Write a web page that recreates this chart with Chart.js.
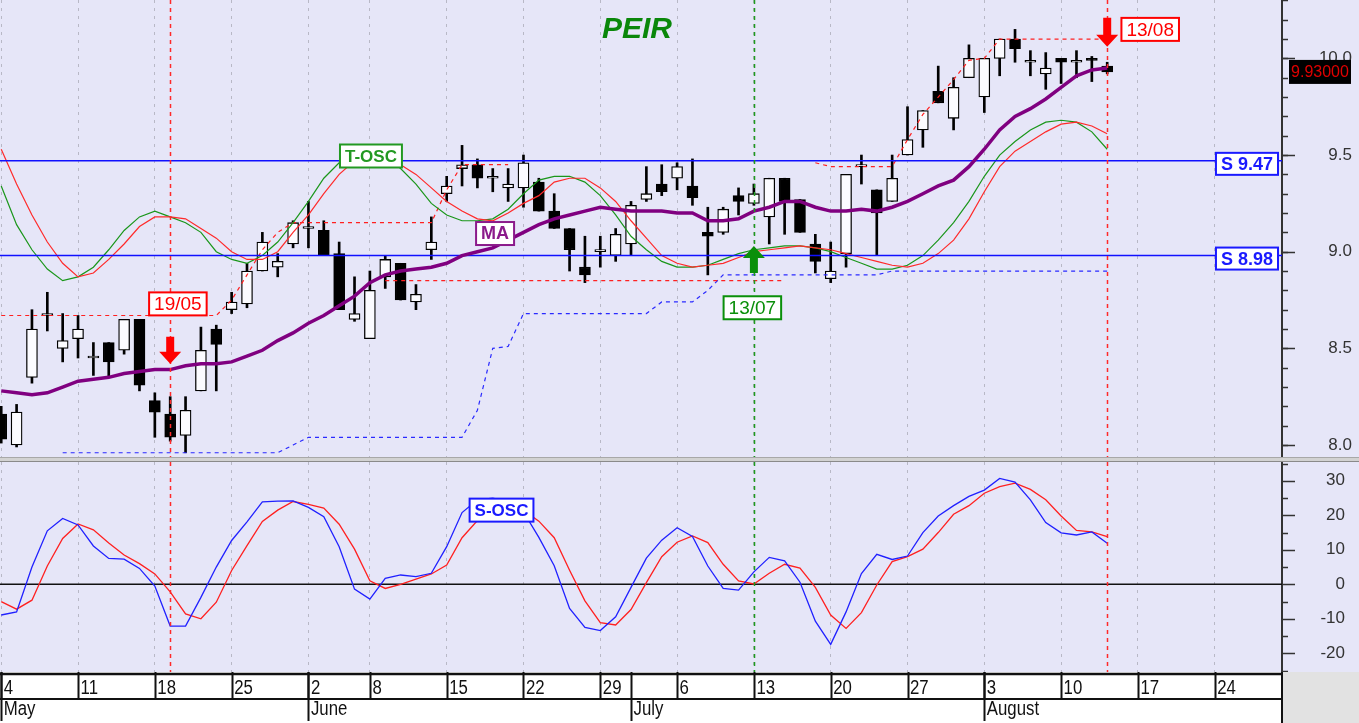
<!DOCTYPE html>
<html>
<head>
<meta charset="utf-8">
<script src="https://cdn.jsdelivr.net/npm/chart.js@4.4.1/dist/chart.umd.min.js"></script>
<style>
  html, body { margin: 0; padding: 0; background: #fff; }
  #wrap { position: relative; width: 1359px; height: 723px; overflow: hidden; background: #e6e6f8; }
  #top { position: absolute; left: 0; top: 0; width: 1359px; height: 457px; }
  #sep { position: absolute; left: 0; top: 457px; width: 1359px; height: 5px; background: #d2d2d2;
         border-top: 1px solid #a8a8a8; border-bottom: 1px solid #8a8a8a; box-sizing: border-box; }
  #bot { position: absolute; left: 0; top: 462px; width: 1359px; height: 261px; }
</style>
</head>
<body>
<div id="wrap">
  <div id="top"><canvas id="priceChart"></canvas></div>
  <div id="sep"></div>
  <div id="bot"><canvas id="oscChart"></canvas></div>
</div>
<script>
// trading-day index axis (0 = 4 May)
var xMin = -0.08, xMax = 83.38;
var weekTickIdx = [0, 5, 10, 15, 20, 24, 29, 34, 39, 44, 49, 54, 59, 64, 69, 74, 79];
var weekTickLabels = ['4', '11', '18', '25', '2', '8', '15', '22', '29', '6', '13', '20', '27', '3', '10', '17', '24'];
var monthIdx = [0, 20, 41, 64];
var monthNames = ['May', 'June', 'July', 'August'];

var priceTicks = [8.0, 8.5, 9.0, 9.5, 10.0];
var oscTicks = [-20, -10, 0, 10, 20, 30];

var openP = [8.16, 8.00, 8.35, 8.67, 8.50, 8.55, 8.45, 8.53, 8.49, 8.65,
             8.23, 8.16, 8.05, 8.28, 8.60, 8.70, 8.73, 8.90, 8.92, 9.04,
             9.12, 9.11, 8.99, 8.65, 8.55, 8.87, 8.94, 8.74, 9.01, 9.30,
             9.43, 9.45, 9.38, 9.33, 9.33, 9.36, 9.21, 9.12, 8.92, 9.00,
             8.98, 9.04, 9.27, 9.35, 9.38, 9.34, 9.10, 9.10, 9.29, 9.25,
             9.18, 9.38, 9.27, 9.04, 8.86, 8.99, 9.44, 9.32, 9.26, 9.50,
             9.63, 9.83, 9.69, 9.90, 9.80, 10.00, 10.10, 9.98, 9.92, 10.00,
             9.98, 10.00, 9.96];
var highP = [8.20, 8.21, 8.70, 8.79, 8.68, 8.67, 8.53, 8.53, 8.65, 8.65,
             8.27, 8.25, 8.25, 8.61, 8.62, 8.79, 8.94, 9.10, 8.99, 9.16,
             9.26, 9.16, 9.05, 8.87, 8.90, 8.98, 8.94, 8.83, 9.18, 9.39,
             9.55, 9.48, 9.43, 9.43, 9.50, 9.38, 9.30, 9.12, 9.08, 9.08,
             9.12, 9.26, 9.44, 9.45, 9.46, 9.48, 9.23, 9.23, 9.33, 9.35,
             9.38, 9.38, 9.27, 9.09, 9.05, 9.40, 9.50, 9.32, 9.50, 9.75,
             9.73, 9.96, 9.90, 10.07, 10.00, 10.10, 10.15, 10.04, 10.03, 10.00,
             10.04, 10.01, 9.98];
var lowP = [8.01, 7.99, 8.32, 8.59, 8.43, 8.45, 8.36, 8.35, 8.47, 8.28,
            8.04, 8.02, 7.96, 8.28, 8.28, 8.68, 8.71, 8.90, 8.87, 9.02,
            9.02, 8.98, 8.70, 8.64, 8.55, 8.81, 8.75, 8.70, 8.96, 9.26,
            9.34, 9.33, 9.31, 9.26, 9.23, 9.21, 9.12, 8.90, 8.84, 8.92,
            8.95, 8.98, 9.26, 9.29, 9.32, 9.24, 8.88, 9.09, 9.19, 9.24,
            9.04, 9.09, 9.10, 8.89, 8.84, 8.92, 9.35, 8.98, 9.26, 9.50,
            9.54, 9.77, 9.63, 9.90, 9.72, 9.91, 9.98, 9.91, 9.84, 9.87,
            9.90, 9.88, 9.92];
var closeP = [8.03, 8.17, 8.60, 8.68, 8.54, 8.60, 8.45, 8.43, 8.65, 8.31,
              8.17, 8.04, 8.18, 8.49, 8.52, 8.74, 8.90, 9.05, 8.95, 9.15,
              9.13, 8.98, 8.70, 8.68, 8.80, 8.96, 8.75, 8.78, 9.05, 9.34,
              9.45, 9.38, 9.38, 9.35, 9.46, 9.21, 9.12, 9.01, 8.88, 9.00,
              9.09, 9.24, 9.30, 9.31, 9.44, 9.28, 9.08, 9.22, 9.26, 9.30,
              9.38, 9.26, 9.10, 8.95, 8.90, 9.40, 9.44, 9.20, 9.38, 9.58,
              9.73, 9.77, 9.85, 10.00, 10.00, 10.10, 10.05, 9.98, 9.95, 9.98,
              9.98, 9.99, 9.93];

var maLine = [8.28, 8.27, 8.26, 8.27, 8.30, 8.33, 8.34, 8.35, 8.37, 8.38,
              8.39, 8.39, 8.41, 8.42, 8.42, 8.43, 8.46, 8.49, 8.54, 8.58,
              8.63, 8.67, 8.72, 8.77, 8.84, 8.88, 8.90, 8.91, 8.92, 8.94,
              8.98, 9.00, 9.02, 9.06, 9.10, 9.14, 9.17, 9.19, 9.21, 9.23,
              9.22, 9.21, 9.21, 9.21, 9.20, 9.20, 9.16, 9.16, 9.17, 9.21,
              9.23, 9.26, 9.26, 9.23, 9.21, 9.21, 9.22, 9.21, 9.23, 9.26,
              9.30, 9.34, 9.37, 9.44, 9.53, 9.63, 9.70, 9.74, 9.79, 9.85,
              9.91, 9.94, 9.95];

// T-OSC (green fast, red slow) plotted on the price scale
var toscFast = [9.34, 9.14, 9.01, 8.91, 8.85, 8.87, 8.92, 9.01, 9.11, 9.18,
                9.21, 9.18, 9.15, 9.10, 9.00, 8.96, 8.94, 8.98, 9.05, 9.15,
                9.26, 9.38, 9.46, 9.52, 9.52, 9.49, 9.43, 9.35, 9.25, 9.19,
                9.16, 9.16, 9.17, 9.22, 9.30, 9.37, 9.39, 9.39, 9.36, 9.29,
                9.19, 9.08, 9.01, 8.95, 8.92, 8.92, 8.93, 8.96, 8.99, 9.01,
                9.02, 9.03, 9.03, 9.02, 9.00, 8.97, 8.94, 8.91, 8.91, 8.93,
                8.98, 9.06, 9.15, 9.26, 9.39, 9.50, 9.57, 9.63, 9.67, 9.68,
                9.67, 9.62, 9.53];
var toscSlow = [9.53, 9.35, 9.19, 9.05, 8.94, 8.87, 8.89, 8.96, 9.04, 9.13,
                9.18, 9.18, 9.17, 9.12, 9.07, 9.00, 8.96, 8.96, 9.00, 9.10,
                9.19, 9.30, 9.40, 9.47, 9.51, 9.50, 9.45, 9.40, 9.33, 9.26,
                9.21, 9.17, 9.16, 9.20, 9.25, 9.29, 9.36, 9.38, 9.38, 9.33,
                9.26, 9.16, 9.07, 8.98, 8.94, 8.92, 8.93, 8.94, 8.97, 9.00,
                9.01, 9.02, 9.03, 9.02, 9.01, 8.99, 8.97, 8.95, 8.93, 8.92,
                8.94, 8.99, 9.06, 9.17, 9.31, 9.44, 9.52, 9.57, 9.62, 9.66,
                9.67, 9.65, 9.61];

var N = null;
var resistA = [8.67, 8.67, 8.67, 8.67, 8.67, 8.67, 8.67, 8.67, 8.67, 8.67,
               8.67, 8.67, 8.67, 8.67, 8.67, 8.75, 8.88, 9.01, 9.10, 9.15,
               9.15, 9.15, 9.15, 9.15, 9.15, 9.15, 9.15, 9.15, 9.15, 9.32,
               9.45, 9.45, 9.45, 9.45, N, N, N, N, N, N,
               N, N, N, N, N, N, N, N, N, N,
               N, N, N, N, N, N, N, N, N, N,
               N, N, N, N, N, N, N, N, N, N,
               N, N, N];
var resistB = [N, N, N, N, N, N, N, N, N, N,
               N, N, N, N, N, N, N, N, N, N,
               N, N, N, N, N, 8.85, 8.85, 8.85, 8.85, 8.85,
               8.85, 8.85, 8.85, 8.85, 8.85, 8.85, 8.85, 8.85, 8.85, 8.85,
               8.85, 8.85, 8.85, 8.85, 8.85, 8.85, 8.85, 8.85, 8.85, 8.85,
               8.85, 8.85, N, N, N, N, N, N, N, N,
               N, N, N, N, N, N, N, N, N, N,
               N, N, N];
var resistC = [N, N, N, N, N, N, N, N, N, N,
               N, N, N, N, N, N, N, N, N, N,
               N, N, N, N, N, N, N, N, N, N,
               N, N, N, N, N, N, N, N, N, N,
               N, N, N, N, N, N, N, N, N, N,
               N, N, N, 9.46, 9.44, 9.44, 9.44, 9.44, 9.44, 9.58,
               9.71, 9.80, 9.89, 9.99, 10.00, 10.10, 10.10, 10.10, 10.10, 10.10,
               10.10, 10.10, 10.10];
var supportStep = [N, N, N, N, 7.96, 7.96, 7.96, 7.96, 7.96, 7.96,
                   7.96, 7.96, 7.96, 7.96, 7.96, 7.96, 7.96, 7.96, 7.96, 8.00,
                   8.04, 8.04, 8.04, 8.04, 8.04, 8.04, 8.04, 8.04, 8.04, 8.04,
                   8.04, 8.18, 8.50, 8.51, 8.68, 8.68, 8.68, 8.68, 8.68, 8.68,
                   8.68, 8.68, 8.68, 8.74, 8.74, 8.74, 8.80, 8.88, 8.88, 8.88,
                   8.88, 8.88, 8.88, 8.88, 8.88, 8.88, 8.88, 8.88, 8.90, 8.90,
                   8.90, 8.90, 8.90, 8.90, 8.90, 8.90, 8.90, 8.90, 8.90, 8.90,
                   8.90, 8.90, 8.90];
var supportLevels = [9.47, 8.98];

// S-OSC lower panel
var soscFast = [-8.9, -8.0, 5.0, 15.5, 19.1, 17.2, 11.1, 7.5, 7.3, 4.6,
                -0.5, -12.1, -12.1, -3.8, 5.0, 12.7, 18.1, 23.9, 24.1, 24.2,
                22.3, 19.6, 10.9, -1.4, -4.3, 1.7, 2.7, 2.2, 3.2, 10.9,
                20.8, 24.5, 25.0, 24.0, 21.0, 13.6, 5.4, -7.0, -12.5, -13.4,
                -9.4, -0.9, 7.6, 12.8, 16.4, 13.9, 5.3, -1.2, -1.7, 3.6,
                7.8, 6.8, 0.6, -10.7, -17.4, -8.0, 3.1, 8.7, 7.2, 8.2,
                15.0, 19.8, 22.8, 25.5, 27.3, 30.7, 29.6, 24.5, 17.9, 14.9,
                14.3, 15.2, 11.9];
var soscSlow = [-5.0, -7.2, -4.6, 5.3, 13.3, 17.5, 15.8, 12.0, 8.5, 6.0,
                3.0, -2.2, -8.6, -10.0, -5.2, 4.0, 11.2, 18.2, 21.5, 24.0,
                23.2, 22.1, 17.4, 10.2, 1.0, -1.2, 0.0, 1.5, 3.0, 5.6,
                13.5, 18.5, 21.0, 22.0, 21.5, 18.3, 13.5, 4.1, -4.8, -11.1,
                -11.8, -7.3, 0.5, 8.0, 12.2, 14.0, 12.1, 5.8, 1.0, 0.1,
                3.2, 5.8, 4.7, -0.9, -8.9, -12.8, -8.2, -0.2, 6.6, 8.0,
                10.2, 15.0, 20.3, 22.8, 26.4, 28.3, 29.3, 27.5, 24.5, 19.8,
                15.6, 15.2, 13.8];

// signals
var signalIdx = [11, 49, 72];
var signalText = ['19/05', '13/07', '13/08'];
var signalBuy = [false, true, false];
// annotation anchors in value space: arrow [tail, tip], tag [index, price]
var signalArrow = [[8.56, 8.42], [8.89, 9.03], [10.21, 10.06]];
var signalTagAt = [[11.5, 8.73], [48.9, 8.71], [74.8, 10.15]];

var FONT = "'Liberation Sans', Arial, sans-serif";

function pts(arr) {
    return arr.map(function(v, i) { return {x: i, y: v}; });
}

function xScale() {
    return {
        type: 'linear', min: xMin, max: xMax, offset: false,
        afterBuildTicks: function(s) { s.ticks = weekTickIdx.map(function(v) { return {value: v}; }); },
        afterFit: function(s) { s.height = 0; s.paddingLeft = 0; s.paddingRight = 0; },
        ticks: {display: false},
        grid: {color: '#b8b8c6', lineWidth: 1, drawTicks: false, offset: false},
        border: {display: false, dash: [3, 5]}
    };
}

// labels are right-aligned at the far edge of the axis box
function yScale(min, max, tickVals, fmt, boxWidth) {
    return {
        type: 'linear', position: 'right', min: min, max: max,
        afterBuildTicks: function(s) { s.ticks = tickVals.map(function(v) { return {value: v}; }); },
        afterFit: function(s) { s.width = boxWidth; s.paddingTop = 0; s.paddingBottom = 0; },
        grid: {display: false, drawTicks: false},
        border: {display: true, color: '#333', width: 2},
        ticks: {
            crossAlign: 'far', padding: 20, color: '#333',
            font: {family: FONT, size: 17},
            callback: fmt
        }
    };
}

function line(ctx, x1, y1, x2, y2) {
    ctx.beginPath(); ctx.moveTo(x1, y1); ctx.lineTo(x2, y2); ctx.stroke();
}

function drawTag(ctx, text, cx, cy, font, color, h) {
    ctx.save();
    ctx.font = font;
    var bw = ctx.measureText(text).width + 10;
    ctx.fillStyle = '#fff';
    ctx.fillRect(cx - bw / 2, cy - h / 2, bw, h);
    ctx.strokeStyle = color; ctx.lineWidth = 2;
    ctx.strokeRect(cx - bw / 2, cy - h / 2, bw, h);
    ctx.fillStyle = color; ctx.textAlign = 'center'; ctx.textBaseline = 'middle';
    ctx.fillText(text, cx, cy + 1);
    ctx.restore();
}

function drawArrow(ctx, x, yTail, yTip, color) {
    var dir = yTip > yTail ? 1 : -1, headLen = 12, headW = 11, shaftW = 4;
    var yh = yTip - dir * headLen;
    ctx.save();
    ctx.fillStyle = color;
    ctx.beginPath();
    ctx.moveTo(x - shaftW, yTail); ctx.lineTo(x + shaftW, yTail);
    ctx.lineTo(x + shaftW, yh); ctx.lineTo(x + headW, yh);
    ctx.lineTo(x, yTip); ctx.lineTo(x - headW, yh);
    ctx.lineTo(x - shaftW, yh); ctx.closePath(); ctx.fill();
    ctx.restore();
}

function drawAxisTicks(chart, major, minor) {
    var ys = chart.scales.y, ctx = chart.ctx, x0 = ys.left;
    ctx.save();
    ctx.strokeStyle = '#333'; ctx.lineWidth = 1.5;
    minor.forEach(function(v) {
        var p = Math.round(ys.getPixelForValue(v)) + 0.5;
        if (p > ys.top && p < ys.bottom) line(ctx, x0, p, x0 + 6, p);
    });
    major.forEach(function(v) {
        var p = Math.round(ys.getPixelForValue(v)) + 0.5;
        line(ctx, x0, p, x0 + 13, p);
    });
    ctx.restore();
}

function drawSignalLines(chart) {
    var ctx = chart.ctx, ca = chart.chartArea, xs = chart.scales.x;
    ctx.save();
    ctx.lineWidth = 1.5; ctx.setLineDash([4, 4]);
    signalIdx.forEach(function(idx, k) {
        var px = Math.round(xs.getPixelForValue(idx)) + 0.5;
        ctx.strokeStyle = signalBuy[k] ? '#1f9a1f' : '#ff2a2a';
        line(ctx, px, ca.top, px, ca.bottom);
    });
    ctx.restore();
}

var priceMinor = [];
for (var v = 7.9; v <= 10.35; v += 0.1) priceMinor.push(Math.round(v * 10) / 10);
var oscMinor = [-25, -15, -5, 5, 15, 25, 35];

var pricePlugin = {
    id: 'pricePlugin',
    afterDatasetsDraw: function(chart) {
        var ctx = chart.ctx, xs = chart.scales.x, ys = chart.scales.y, ca = chart.chartArea;
        drawSignalLines(chart);
        // title
        ctx.save();
        ctx.font = 'bold italic 30px ' + FONT;
        ctx.fillStyle = '#0a870a'; ctx.textAlign = 'center'; ctx.textBaseline = 'middle';
        ctx.fillText('PEIR', (ca.left + ca.right) / 2 - 4, 30);
        ctx.restore();
        // indicator tags
        drawTag(ctx, 'T-OSC', xs.getPixelForValue(24.07), ys.getPixelForValue(9.495), 'bold 17px ' + FONT, '#229922', 23);
        drawTag(ctx, 'MA', xs.getPixelForValue(32.15), ys.getPixelForValue(9.094), 'bold 18px ' + FONT, '#8b1a8b', 23);
        // signal arrows and date tags
        signalIdx.forEach(function(idx, k) {
            var col = signalBuy[k] ? '#0a8f0a' : '#ff0000';
            drawArrow(ctx, xs.getPixelForValue(idx), ys.getPixelForValue(signalArrow[k][0]),
                      ys.getPixelForValue(signalArrow[k][1]), col);
            drawTag(ctx, signalText[k], xs.getPixelForValue(signalTagAt[k][0]),
                    ys.getPixelForValue(signalTagAt[k][1]), '19px ' + FONT, col, 23);
        });
        // support level tags
        ctx.save();
        ctx.font = 'bold 18px ' + FONT;
        supportLevels.forEach(function(lv) {
            var t = 'S ' + lv.toFixed(2), w = ctx.measureText(t).width + 10;
            drawTag(ctx, t, ca.right - 4 - w / 2, ys.getPixelForValue(lv) + 3, 'bold 18px ' + FONT, '#1a1aff', 22);
        });
        ctx.restore();
    },
    afterDraw: function(chart) {
        var ctx = chart.ctx, ys = chart.scales.y;
        drawAxisTicks(chart, priceTicks, priceMinor);
        // last price box
        var last = closeP[closeP.length - 1];
        var py = ys.getPixelForValue(last);
        ctx.save();
        ctx.fillStyle = '#000';
        ctx.fillRect(ys.left + 7, py - 12, 62, 24);
        ctx.fillStyle = '#e00000'; ctx.font = '16px ' + FONT;
        ctx.textAlign = 'center'; ctx.textBaseline = 'middle';
        ctx.fillText(last.toFixed(5), ys.left + 38, py + 1);
        ctx.restore();
    }
};

var oscPlugin = {
    id: 'oscPlugin',
    afterDatasetsDraw: function(chart) {
        var xs = chart.scales.x, ys = chart.scales.y;
        drawSignalLines(chart);
        drawTag(chart.ctx, 'S-OSC', xs.getPixelForValue(32.57), ys.getPixelForValue(21.5), 'bold 17px ' + FONT, '#1a1aff', 23);
    },
    afterDraw: function(chart) {
        var ctx = chart.ctx, ca = chart.chartArea, xs = chart.scales.x;
        var top = ca.bottom, H = chart.height, W = chart.width;
        drawAxisTicks(chart, oscTicks, oscMinor);
        ctx.save();
        ctx.fillStyle = '#ffffff';
        ctx.fillRect(0, top, ca.right, H - top);
        ctx.fillStyle = '#e2e2e2';
        ctx.fillRect(ca.right, top, W - ca.right, H - top);
        ctx.strokeStyle = '#111'; ctx.lineWidth = 2.5;
        line(ctx, 0, top + 2, ca.right, top + 2);
        ctx.lineWidth = 2;
        line(ctx, 0, top + 27, ca.right, top + 27);
        line(ctx, ca.right, top, ca.right, H);
        weekTickIdx.forEach(function(i) {
            var px = Math.round(xs.getPixelForValue(i)) + 0.5;
            line(ctx, px, top, px, top + 27);
        });
        monthIdx.forEach(function(i) {
            var px = Math.round(xs.getPixelForValue(i)) + 0.5;
            line(ctx, px, top, px, H - 2);
        });
        ctx.fillStyle = '#111';
        ctx.font = '20px ' + FONT;
        ctx.textBaseline = 'alphabetic'; ctx.textAlign = 'left';
        function narrowText(t, x, y) {
            ctx.save(); ctx.translate(x, y); ctx.scale(0.84, 1); ctx.fillText(t, 0, 0); ctx.restore();
        }
        weekTickIdx.forEach(function(i, k) {
            narrowText(weekTickLabels[k], xs.getPixelForValue(i) + 2.5, top + 22);
        });
        monthIdx.forEach(function(i, k) {
            narrowText(monthNames[k], xs.getPixelForValue(i) + 2.5, top + 43);
        });
        ctx.restore();
    }
};

var common = {
    responsive: true, maintainAspectRatio: false, animation: false, events: [],
    plugins: {legend: {display: false}, tooltip: {enabled: false}, title: {display: false}}
};

var priceChart = new Chart(document.getElementById('priceChart').getContext('2d'), {
    type: 'bar',
    data: {
        datasets: [
            {type: 'line', data: pts(maLine), borderColor: '#800080', borderWidth: 3.5, pointRadius: 0, order: 0},
            {type: 'line', data: [{x: xMin, y: supportLevels[0]}, {x: xMax, y: supportLevels[0]}],
             borderColor: '#1010ff', borderWidth: 1.5, pointRadius: 0, order: 1},
            {type: 'line', data: [{x: xMin, y: supportLevels[1]}, {x: xMax, y: supportLevels[1]}],
             borderColor: '#1010ff', borderWidth: 1.5, pointRadius: 0, order: 1},
            {type: 'line', data: pts(toscSlow), borderColor: '#ff2a2a', borderWidth: 1.2, pointRadius: 0, order: 2},
            {type: 'line', data: pts(toscFast), borderColor: '#1a961a', borderWidth: 1.2, pointRadius: 0, order: 2},
            {type: 'line', data: pts(resistA), borderColor: '#ff2020', borderWidth: 1.2, borderDash: [4, 4], pointRadius: 0, order: 3},
            {type: 'line', data: pts(resistB), borderColor: '#ff2020', borderWidth: 1.2, borderDash: [4, 4], pointRadius: 0, order: 3},
            {type: 'line', data: pts(resistC), borderColor: '#ff2020', borderWidth: 1.2, borderDash: [4, 4], pointRadius: 0, order: 3},
            {type: 'line', data: pts(supportStep), borderColor: '#2a2aff', borderWidth: 1.2, borderDash: [4, 4], pointRadius: 0, order: 4},
            {type: 'bar', order: 5, grouped: false, barThickness: 11, minBarLength: 2,
             data: openP.map(function(o, i) { return {x: i, y: [o, closeP[i]]}; }),
             backgroundColor: function(c) { return closeP[c.dataIndex] >= openP[c.dataIndex] ? '#fbfbff' : '#000'; },
             borderColor: '#000', borderWidth: 1.3, borderSkipped: false},
            {type: 'bar', order: 6, grouped: false, barThickness: 2,
             data: lowP.map(function(l, i) { return {x: i, y: [l, highP[i]]}; }),
             backgroundColor: '#000'}
        ]
    },
    options: Object.assign({}, common, {
        layout: {autoPadding: false, padding: {left: 0, right: 7, top: 0, bottom: 0}},
        scales: {
            x: xScale(),
            y: yScale(7.938, 10.302, priceTicks, function(v) { return v.toFixed(1); }, 70)
        }
    }),
    plugins: [pricePlugin]
});

var oscChart = new Chart(document.getElementById('oscChart').getContext('2d'), {
    type: 'line',
    data: {
        datasets: [
            {data: [{x: xMin, y: 0}, {x: xMax, y: 0}], borderColor: '#111', borderWidth: 1.5, pointRadius: 0, order: 3},
            {data: pts(soscSlow), borderColor: '#ff2020', borderWidth: 1.3, pointRadius: 0, order: 2},
            {data: pts(soscFast), borderColor: '#2020ff', borderWidth: 1.3, pointRadius: 0, order: 1}
        ]
    },
    options: Object.assign({}, common, {
        layout: {autoPadding: false, padding: {left: 0, right: 14, top: 0, bottom: 51}},
        scales: {
            x: xScale(),
            y: yScale(-25.42, 35.45, oscTicks, function(v) { return String(v); }, 63)
        }
    }),
    plugins: [oscPlugin]
});
</script>
</body>
</html>
